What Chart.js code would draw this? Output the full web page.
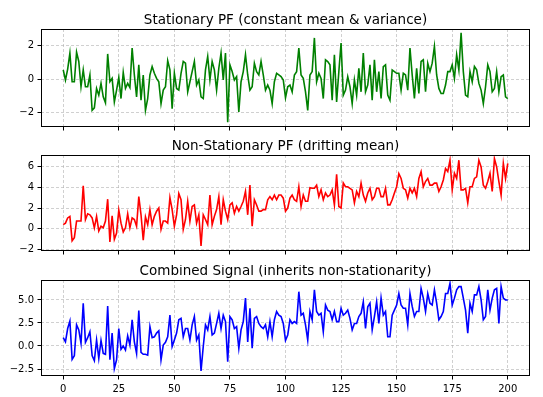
<!DOCTYPE html>
<html>
<head>
<meta charset="utf-8">
<script src="https://cdn.jsdelivr.net/npm/chart.js@4.4.1/dist/chart.umd.min.js"></script>
<style>
  html, body { margin: 0; padding: 0; background: #fff; }
  #fig { position: relative; width: 543px; height: 397px; overflow: hidden; }
  #fig canvas { position: absolute; left: 0; }
</style>
</head>
<body>
<div id="fig">
  <canvas id="c1" width="543" height="140" style="top:0px"></canvas>
  <canvas id="c2" width="543" height="125" style="top:140px"></canvas>
  <canvas id="c3" width="543" height="132" style="top:265px"></canvas>
</div>
<script>
// values, one per time step 0..200
const stationary = [
  0.55, -0.05, 0.6, 1.55, -0.15, -0.15, 1.6, 1.05, -0.45, 0.55,
  -0.45, -0.45, 0.25, -1.85, -1.7, -0.55, -0.95, -0.25, -1.05, -1.4,
  1.5, -0.15, 0.05, -1.35, -0.65, 0.1, -1.15, 0.4, -0.55, -0.25,
  -0.5, 1.85, 0.25, -1.05, 0.85, -1.25, 0.25, -1.85, -1.15, 0.25,
  0.75, 0.35, 0.05, -0.15, -1.45, -0.65, -0.45, 1.1, 0.55, -1.75,
  0.35, -0.55, -0.65, 0.35, 1.05, 0.95, -0.75, -0.15, 0.45, 1.05,
  -0.35, -0.05, -1.05, -1.15, 0.55, 1.35, -0.05, 1.05, 0.55, -0.65,
  0.65, 1.55, -0.05, 1.55, -2.55, 0.85, 0.45, -0.05, 0.15, -1.95,
  -0.15, 0.45, 1.45, 0.25, -0.65, -0.45, 0.95, 0.45, 0.25, 1.05,
  0.25, -0.65, -0.35, -0.65, -1.45, -0.15, 0.35, 0.25, 0.15, -0.05,
  -1.1, -0.45, -0.35, -0.75, 0.25, 0.45, 1.85, 0.25, 0.05, -0.75,
  -1.85, 0.25, 0.45, 2.45, -0.15, 0.35, 0.05, -1.15, 1.15, 1.05,
  0.85, -1.25, 1.45, -1.35, 0.45, 2.15, -0.95, -0.65, 0.15, -0.45,
  -1.45, -0.05, -0.95, 0.65, -0.75, 1.55, -0.75, -0.35, 0.85, -1.25,
  1.15, -0.75, 0.45, -1.15, 0.75, 0.85, -0.95, -1.25, 0.55, 0.45,
  0.35, 0.35, -0.65, 0.35, 0.25, -0.65, 1.85, 0.25, -1.15, 0.65,
  -0.85, 1.05, 1.15, -0.75, 0.95, 0.45, 0.95, 1.95, 0.25, -0.55,
  -0.85, -0.85, -0.35, 0.45, 0.45, 0.85, 0.05, 1.45, 0.55, 2.75,
  0.45, -0.95, -1.05, 0.45, -0.15, 0.75, 0.55, -0.25, -0.65, -1.45,
  -0.45, 0.85, 0.45, -0.75, -0.55, 0.45, -0.75, 0.15, 0.25, -1.05,
  -1.15
];

const nonStationary = [
  0.4, 0.55, 1.05, 1.2, -1.15, -0.85, 0.75, 0.75, 0.75, 4.15,
  0.9, 1.45, 1.35, 1.05, 0.1, 1.2, -0.2, 0.25, 0.1, 0.75,
  2.85, -1.25, 1.25, -1.0, -0.4, 1.8, 0.55, -0.3, 0.1, 1.45,
  0.1, 1.05, 0.9, 0.25, 3.1, 1.35, -1.1, 1.15, 0.4, 1.85,
  0.4, 1.2, 1.7, 2.0, -0.05, 0.75, 0.75, 0.55, 3.0, 1.85,
  0.25, 1.35, 3.4, 2.8, -0.05, 0.9, 2.65, 0.75, 2.15, 2.3,
  0.55, 1.35, -1.65, 1.35, 0.9, 0.4, 3.25, 0.4, 1.2, 1.85,
  3.1, 0.4, 2.8, 1.7, 0.9, 2.3, 2.5, 1.5, 2.15, 1.7,
  2.15, 2.65, 3.6, 1.35, 4.2, 0.25, 2.8, 2.3, 1.7, 1.7,
  1.85, 1.85, 2.8, 3.1, 2.8, 3.25, 2.8, 3.25, 3.25, 2.95,
  1.7, 2.0, 2.95, 3.25, 2.8, 2.65, 4.05, 2.15, 3.25, 2.65,
  2.65, 3.95, 3.9, 3.9, 4.2, 3.1, 3.75, 2.8, 3.45, 3.1,
  3.25, 3.75, 2.3, 5.25, 2.15, 2.0, 4.4, 4.05, 4.05, 3.9,
  3.75, 2.5, 3.6, 3.1, 4.4, 3.25, 2.65, 3.45, 3.9, 2.8,
  3.1, 3.9, 3.9, 3.1, 3.1, 3.9, 2.3, 2.3, 2.8, 3.45,
  4.05, 5.3, 4.85, 3.9, 3.75, 2.95, 3.9, 3.45, 3.9, 3.1,
  4.85, 5.5, 4.05, 4.55, 4.85, 4.2, 4.2, 4.4, 4.4, 3.6,
  4.05, 4.7, 5.8, 5.5, 6.6, 3.75, 5.35, 4.85, 6.6, 3.75,
  3.75, 3.9, 2.5, 4.05, 4.05, 4.85, 5.0, 6.6, 5.95, 4.2,
  3.9, 4.55, 5.35, 3.6, 6.75, 5.95, 4.55, 3.25, 6.3, 4.85,
  6.3
];

const combined = [
  0.9, 0.45, 1.9, 2.7, -1.45, -1.05, 2.3, 1.75, 0.3, 4.65,
  0.4, 0.9, 1.55, -1.05, -1.6, 0.65, -1.35, 0.6, -0.8, -0.9,
  4.35, -1.5, 1.4, -2.45, -1.5, 1.9, -0.35, 0.0, -0.45, 1.1,
  0.1, 2.85, 0.45, -0.8, 3.85, -0.7, -0.9, -0.9, -1.0, 2.1,
  0.9, 1.0, 1.4, 1.65, -1.5, 0.1, 0.4, 1.0, 3.35, -0.05,
  0.65, 1.4, 2.85, 3.0, 1.0, 1.9, 1.9, 0.65, 2.3, 3.2,
  0.65, 1.2, -2.7, -0.05, 2.3, 1.75, 3.2, 1.2, 1.4, 2.45,
  3.55, 1.9, 3.35, 2.65, -1.7, 3.2, 2.85, 1.9, 2.1, -0.25,
  1.75, 2.65, 5.2, 0.45, 4.1, -0.25, 3.0, 3.2, 2.45, 2.1,
  1.9, 2.3, 1.0, 2.65, 1.0, 2.85, 3.75, 3.35, 3.2, 2.45,
  0.6, 1.2, 2.85, 2.45, 2.65, 2.45, 5.9, 3.35, 3.55, 2.3,
  0.65, 3.75, 2.85, 6.1, 3.75, 3.35, 3.55, 1.55, 4.45, 3.9,
  3.75, 2.85, 3.75, 2.65, 2.65, 4.1, 3.35, 3.55, 3.9, 3.0,
  1.75, 2.45, 2.45, 3.2, 3.55, 4.8, 1.9, 4.25, 4.65, 1.75,
  3.2, 4.8, 2.45, 5.2, 3.35, 3.75, 1.0, 1.0, 3.35, 3.9,
  4.45, 5.7, 4.45, 4.1, 4.1, 2.3, 5.7, 4.3, 3.2, 3.75,
  3.75, 6.25, 5.2, 3.75, 5.7, 4.65, 4.45, 6.1, 4.65, 2.85,
  3.2, 3.75, 5.7, 5.7, 6.8, 4.45, 5.2, 6.1, 6.45, 6.45,
  5.2, 3.9, 1.4, 4.65, 3.75, 5.55, 5.55, 6.45, 5.0, 2.85,
  3.2, 6.1, 3.9, 5.2, 6.1, 6.25, 2.45, 6.45, 5.2, 5.0,
  5.0
];

const titles = [
  "Stationary PF (constant mean & variance)",
  "Non-Stationary PF (drifting mean)",
  "Combined Signal (inherits non-stationarity)"
];

const xTicks = [0, 25, 50, 75, 100, 125, 150, 175, 200];

const yTicks1 = [-2, 0, 2];
const yLabels1 = ["\u22122", "0", "2"];
const yTicks2 = [-2, 0, 2, 4, 6];
const yLabels2 = ["\u22122", "0", "2", "4", "6"];
const yTicks3 = [-2.5, 0, 2.5, 5];
const yLabels3 = ["\u22122.5", "0.0", "2.5", "5.0"];

const FONT = "'DejaVu Sans', 'Liberation Sans', sans-serif";
const gridColor = "rgba(176,176,176,0.6)";

Chart.defaults.font.family = FONT;
Chart.defaults.font.size = 10;
Chart.defaults.color = "#000";

// frame + title, matplotlib style
const framePlugin = {
  id: "frame",
  afterDraw(chart) {
    const { ctx, chartArea: a } = chart;
    ctx.save();
    ctx.setLineDash([]);
    ctx.strokeStyle = "#000";
    ctx.lineWidth = 1;
    ctx.strokeRect(a.left + 0.5, a.top + 0.5, a.right - a.left - 1, a.bottom - a.top - 1);
    ctx.fillStyle = "#000";
    ctx.font = "13.5px " + FONT;
    ctx.textAlign = "center";
    ctx.textBaseline = "alphabetic";
    ctx.fillText(chart.options.plugins.frame.title, (a.left + a.right) / 2, a.top - 5);
    ctx.restore();
  }
};

function makePanel(id, title, values, color, yMin, yMax, yTicks, yLabels, showX, padTop, xAxisH) {
  const points = values.map((v, i) => ({ x: i, y: v }));
  const ctx = document.getElementById(id).getContext("2d");

  return new Chart(ctx, {
    type: "line",
    data: {
      datasets: [{
        data: points,
        borderColor: color,
        borderWidth: 1.6,
        pointRadius: 0,
        tension: 0,
        fill: false
      }]
    },
    plugins: [framePlugin],
    options: {
      responsive: false,
      devicePixelRatio: 1,
      animation: false,
      layout: { padding: { left: 0, right: 13, top: padTop, bottom: 0 } },
      plugins: {
        legend: { display: false },
        tooltip: { enabled: false },
        frame: { title }
      },
      scales: {
        x: {
          type: "linear",
          min: -10,
          max: 210,
          afterBuildTicks: s => { s.ticks = xTicks.map(v => ({ value: v })); },
          afterFit: s => { s.height = xAxisH; },
          grid: {
            color: gridColor,
            lineWidth: 1,
            tickLength: 3.5,
            tickColor: "#000",
            tickWidth: 1,
            tickBorderDash: []
          },
          border: { display: false, dash: [3, 2] },
          ticks: {
            display: showX,
            padding: 3.5,
            maxRotation: 0,
            autoSkip: false,
            callback: v => String(v)
          }
        },
        y: {
          min: yMin,
          max: yMax,
          afterBuildTicks: s => { s.ticks = yTicks.map(v => ({ value: v })); },
          afterFit: s => { s.width = 41; },
          grid: {
            color: gridColor,
            lineWidth: 1,
            tickLength: 3.5,
            tickColor: "#000",
            tickWidth: 1,
            tickBorderDash: []
          },
          border: { display: false, dash: [3, 2] },
          ticks: {
            padding: 3.5,
            autoSkip: false,
            callback: v => yLabels[yTicks.indexOf(v)]
          }
        }
      }
    }
  });
}

makePanel("c1", titles[0], stationary, "#008000", -2.84, 2.98, yTicks1, yLabels1, false, 29, 13);
makePanel("c2", titles[1], nonStationary, "#ff0000", -2.13, 7.1, yTicks2, yLabels2, false, 15, 14);
makePanel("c3", titles[2], combined, "#0000ff", -3.26, 7.17, yTicks3, yLabels3, true, 15, 21);
</script>
</body>
</html>
